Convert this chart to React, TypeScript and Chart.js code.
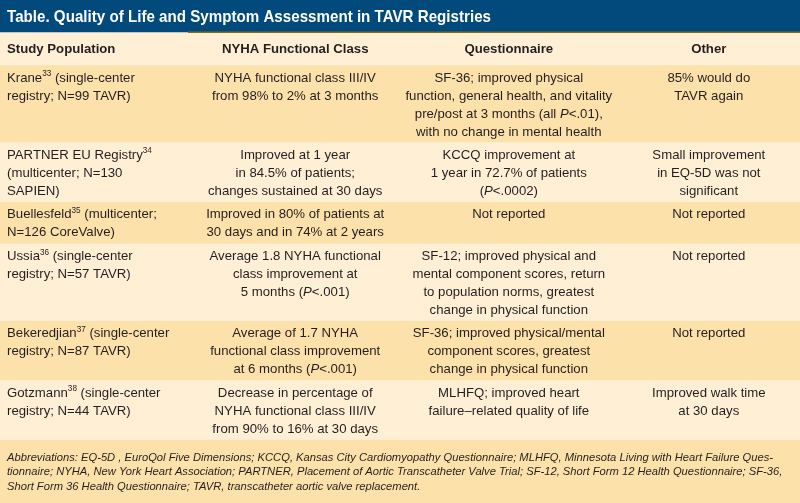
import React, { useEffect, useRef } from "react";
import { Chart, registerables } from "chart.js";

Chart.register(...registerables);

const titleText = "Table. Quality of Life and Symptom Assessment in TAVR Registries";
const columnHeaders = ["Study Population", "NYHA Functional Class", "Questionnaire", "Other"];

const studyPopulation = [
  ["Krane^33^ (single-center", "registry; N=99 TAVR)"],
  ["PARTNER EU Registry^34^", "(multicenter; N=130", "SAPIEN)"],
  ["Buellesfeld^35^ (multicenter;", "N=126 CoreValve)"],
  ["Ussia^36^ (single-center", "registry; N=57 TAVR)"],
  ["Bekeredjian^37^ (single-center", "registry; N=87 TAVR)"],
  ["Gotzmann^38^ (single-center", "registry; N=44 TAVR)"],
];
const nyhaClass = [
  ["NYHA functional class III/IV", "from 98% to 2% at 3 months"],
  ["Improved at 1 year", "in 84.5% of patients;", "changes sustained at 30 days"],
  ["Improved in 80% of patients at", "30 days and in 74% at 2 years"],
  ["Average 1.8 NYHA functional", "class improvement at", "5 months (_P_<.001)"],
  ["Average of 1.7 NYHA", "functional class improvement", "at 6 months (_P_<.001)"],
  ["Decrease in percentage of", "NYHA functional class III/IV", "from 90% to 16% at 30 days"],
];
const questionnaire = [
  ["SF-36; improved physical", "function, general health, and vitality", "pre/post at 3 months (all _P_<.01),", "with no change in mental health"],
  ["KCCQ improvement at", "1 year in 72.7% of patients", "(_P_<.0002)"],
  ["Not reported"],
  ["SF-12; improved physical and", "mental component scores, return", "to population norms, greatest", "change in physical function"],
  ["SF-36; improved physical/mental", "component scores, greatest", "change in physical function"],
  ["MLHFQ; improved heart", "failure–related quality of life"],
];
const other = [
  ["85% would do", "TAVR again"],
  ["Small improvement", "in EQ-5D was not", "significant"],
  ["Not reported"],
  ["Not reported"],
  ["Not reported"],
  ["Improved walk time", "at 30 days"],
];
const footnoteLines = [
  "Abbreviations: EQ-5D , EuroQol Five Dimensions; KCCQ, Kansas City Cardiomyopathy Questionnaire; MLHFQ, Minnesota Living with Heart Failure Ques-",
  "tionnaire; NYHA, New York Heart Association; PARTNER, Placement of Aortic Transcatheter Valve Trial; SF-12, Short Form 12 Health Questionnaire; SF-36,",
  "Short Form 36 Health Questionnaire; TAVR, transcatheter aortic valve replacement.",
];

const FONT = "'Liberation Sans', Arial, Helvetica, sans-serif";
const TEXT = "#231f20";
const BLUE = "#014a7b";
const GOLD = "#8a6a12";
const PEACH = "#fde1aa";
const CREAM = "#fff0d5";
const LINE_H = 18;

const columns = [studyPopulation, nyhaClass, questionnaire, other];
const rowLines = studyPopulation.map((_, r) => Math.max(...columns.map((c) => c[r].length)));

type Band = { kind: string; row?: number; height: number; color: string };
const bands: Band[] = [
  { kind: "title", height: 32, color: BLUE },
  { kind: "header", height: 33, color: CREAM },
  ...rowLines.map((n, r) => ({ kind: "row", row: r, height: n * 17.5 + 7, color: r % 2 === 0 ? PEACH : CREAM })),
];
const usedHeight = bands.reduce((s, b) => s + b.height, 0);
bands.push({ kind: "foot", height: 503 - usedHeight, color: PEACH });
const totalHeight = bands.reduce((s, b) => s + b.height, 0);

function drawRich(ctx: CanvasRenderingContext2D, text: string, x: number, y: number, align: string, size: number, bold = false) {
  const parts = text.split(/(\^[^^]+\^|_[^_]+_)/).filter((p) => p.length);
  const segs = parts.map((p) => {
    if (p.startsWith("^")) return { t: p.slice(1, -1), font: `${bold ? "bold " : ""}${size * 0.62}px ${FONT}`, dy: -size * 0.32 };
    if (p.startsWith("_")) return { t: p.slice(1, -1), font: `italic ${bold ? "bold " : ""}${size}px ${FONT}`, dy: 0 };
    return { t: p, font: `${bold ? "bold " : ""}${size}px ${FONT}`, dy: 0 };
  });
  let total = 0;
  const widths = segs.map((s) => {
    ctx.font = s.font;
    const w = ctx.measureText(s.t).width;
    total += w;
    return w;
  });
  let cx = align === "center" ? x - total / 2 : x;
  ctx.textAlign = "left";
  ctx.textBaseline = "middle";
  segs.forEach((s, i) => {
    ctx.font = s.font;
    ctx.fillText(s.t, cx, y + s.dy);
    cx += widths[i];
  });
}

const tablePlugin = {
  id: "tableText",
  afterDatasetsDraw(chart: any) {
    const ctx = chart.ctx as CanvasRenderingContext2D;
    const area = chart.chartArea;
    const W = area.right - area.left;
    const colX = [area.left + 7, area.left + W * 0.369, area.left + W * 0.636, area.left + W * 0.886];
    const colAlign = ["left", "center", "center", "center"];
    ctx.save();
    bands.forEach((b, i) => {
      const el = chart.getDatasetMeta(i).data[0] as any;
      const top = Math.min(el.y, el.base);
      const bottom = Math.max(el.y, el.base);
      if (b.kind === "title") {
        ctx.fillStyle = "#ffffff";
        ctx.font = `bold 17px ${FONT}`;
        ctx.textBaseline = "middle";
        ctx.textAlign = "left";
        ctx.fillText(titleText, area.left + 7, (top + bottom) / 2 + 1, W * 0.605);
        ctx.fillStyle = GOLD;
        ctx.fillRect(area.left + W * 0.235, bottom - 0.5, W, 1.5);
      } else if (b.kind === "header") {
        ctx.fillStyle = TEXT;
        columnHeaders.forEach((h, c) => drawRich(ctx, h, colX[c], (top + bottom) / 2 + 0.5, colAlign[c], 13.2, true));
      } else if (b.kind === "row") {
        ctx.fillStyle = TEXT;
        columns.forEach((col, c) => {
          col[b.row!].forEach((line, k) => {
            drawRich(ctx, line, colX[c], top + 13 + k * LINE_H, colAlign[c], 13.2);
          });
        });
      } else if (b.kind === "foot") {
        ctx.fillStyle = TEXT;
        ctx.font = `italic 11.2px ${FONT}`;
        ctx.textAlign = "left";
        ctx.textBaseline = "middle";
        footnoteLines.forEach((l, k) => ctx.fillText(l, area.left + 7, top + 18 + k * 14.8));
      }
    });
    ctx.restore();
  },
};

export default function App() {
  const ref = useRef<HTMLCanvasElement | null>(null);
  useEffect(() => {
    document.body.style.margin = "0";
    const chart = new Chart(ref.current!, {
      type: "bar",
      data: {
        labels: ["table"],
        datasets: bands.map((b) => ({
          label: b.kind,
          data: [b.height],
          backgroundColor: b.color,
          borderWidth: 0,
          barPercentage: 1,
          categoryPercentage: 1,
        })),
      },
      options: {
        animation: false,
        responsive: true,
        maintainAspectRatio: false,
        layout: { padding: 0 },
        plugins: { legend: { display: false }, tooltip: { enabled: false }, title: { display: false } },
        scales: {
          x: { stacked: true, display: false },
          y: { stacked: true, display: false, reverse: true, min: 0, max: totalHeight },
        },
      },
      plugins: [tablePlugin],
    });
    return () => chart.destroy();
  }, []);
  return (
    <div style={{ width: 800, height: 503, position: "relative" }}>
      <canvas ref={ref} />
    </div>
  );
}
